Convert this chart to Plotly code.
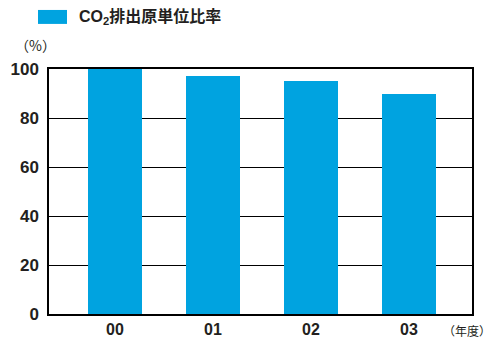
import plotly.graph_objects as go

years = ["00", "01", "02", "03"]
ratio = [100, 97, 95, 90]
yticks = [0, 20, 40, 60, 80, 100]
legend_name = "CO<sub>2</sub>排出原単位比率"

font_fam = "Liberation Sans, Arial, Noto Sans CJK JP, sans-serif"
txt = "#231f20"

fig = go.Figure()
fig.add_trace(go.Bar(x=list(range(len(years))), y=ratio, width=0.55,
                     marker=dict(color="#00a3e0", line=dict(width=0)),
                     name=legend_name, showlegend=False))

fig.update_layout(
    width=496, height=338,
    margin=dict(l=49, r=24, t=69, b=24),
    plot_bgcolor="white", paper_bgcolor="white",
    bargap=0,
    xaxis=dict(range=[-0.673, 3.643], tickvals=list(range(len(years))),
               ticktext=["<b>" + y + "</b>" for y in years], automargin=False,
               showgrid=False, zeroline=False, showline=True, linecolor="black", linewidth=1.5,
               mirror=True, ticks="", tickfont=dict(family=font_fam, size=16, color=txt),
               ticklabelstandoff=0),
    yaxis=dict(range=[0, 100], tickvals=yticks, ticktext=["<b>%d</b>" % v for v in yticks],
               automargin=False, showgrid=True, gridcolor="black", gridwidth=1,
               zeroline=False, showline=True, linecolor="black", linewidth=1.5, mirror=True,
               ticks="", tickfont=dict(family=font_fam, size=17, color=txt), ticklabelstandoff=5),
    font=dict(family=font_fam, color=txt),
)

fig.add_shape(type="rect", xref="paper", yref="paper", x0=-0.026, x1=0.0426, y0=1.184, y1=1.241,
              fillcolor="#00a3e0", line=dict(width=0))
fig.add_annotation(xref="paper", yref="paper", x=0.0662, y=1.212, xanchor="left", yanchor="middle",
                   text="<b>" + legend_name + "</b>", showarrow=False,
                   font=dict(size=16, color=txt, family=font_fam))
fig.add_annotation(xref="paper", yref="paper", x=-0.031, y=1.098, xanchor="center", yanchor="middle",
                   text="（%）", showarrow=False,
                   font=dict(size=14, color=txt, family="Noto Sans CJK JP"))
fig.add_annotation(xref="paper", yref="paper", x=0.988, y=-0.069, xanchor="center", yanchor="middle",
                   text="（年度）", showarrow=False,
                   font=dict(size=12, color=txt, family="Noto Sans CJK JP"))

fig.write_html("out.html")
